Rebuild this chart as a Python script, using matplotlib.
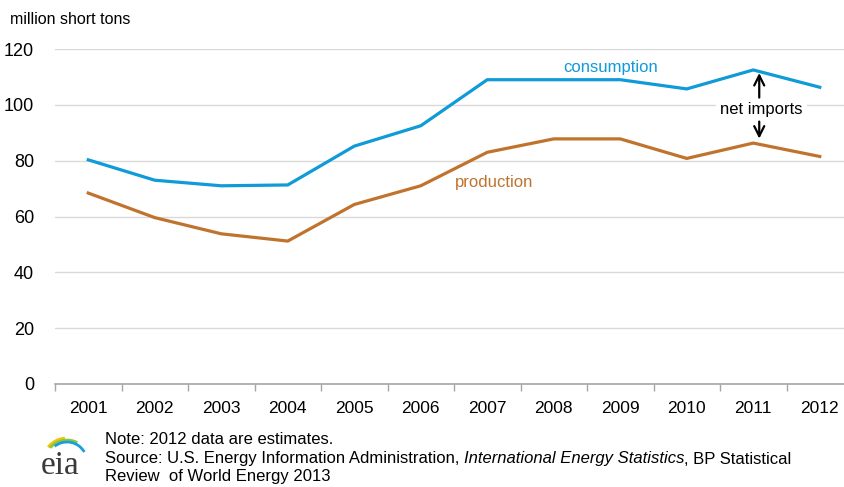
import numpy as np
import matplotlib
matplotlib.use("Agg")
import matplotlib.pyplot as plt
from matplotlib.patches import Arc

plt.rcParams['font.family'] = ['Liberation Sans', 'DejaVu Sans']

years = ['2001', '2002', '2003', '2004', '2005', '2006',
         '2007', '2008', '2009', '2010', '2011', '2012']
consumption = [80.3, 73.0, 71.0, 71.3, 85.2, 92.5, 109.0, 109.0, 109.0, 105.7, 112.5, 106.3]
production = [68.4, 59.6, 53.8, 51.2, 64.3, 71.0, 83.0, 87.8, 87.8, 80.8, 86.3, 81.5]

blue = '#0f9ad8'
brown = '#c0732d'
grid = '#d9d9d9'

fig = plt.figure(figsize=(8.44, 4.87), dpi=100)
# the original chart runs a little past the right edge of the image
ax = fig.add_axes([55/844, 103/487, 798/844, 335/487])

x = np.arange(len(years))
ax.plot(x, consumption, color=blue, lw=2.3, solid_joinstyle='miter')
ax.plot(x, production, color=brown, lw=2.3, solid_joinstyle='miter')

ax.set_xlim(-0.5, len(years) - 0.5)
ax.set_ylim(0, 120)
ax.set_yticks(range(0, 121, 20))
ax.yaxis.grid(True, color=grid, lw=1)
ax.set_axisbelow(True)
ax.set_xticks(x)
ax.set_xticklabels(years)
ax.set_xticks(np.arange(-0.5, len(years)), minor=True)
ax.tick_params(axis='x', which='major', length=0, pad=12, labelsize=12.5, colors='#000000')
ax.tick_params(axis='x', which='minor', length=5, color='#a6a6a6', width=1)
ax.tick_params(axis='y', length=0, pad=15, labelsize=13)
for s in ['top', 'right', 'left']:
    ax.spines[s].set_visible(False)
ax.spines['bottom'].set_color('#a6a6a6')
ax.spines['bottom'].set_linewidth(1.2)

fig.text(10/844, 1 - 20/487, 'million short tons', fontsize=11.5, va='center')

ax.text(7.86, 113.3, 'consumption', color=blue, fontsize=12, ha='center', va='center')
ax.text(6.1, 72.0, 'production', color=brown, fontsize=12, ha='center', va='center')

ax.text(10.12, 98.2, 'net imports', fontsize=12, ha='center', va='center',
        bbox=dict(facecolor='white', edgecolor='none', pad=3), zorder=5)
arrow = dict(arrowstyle='->', color='black', lw=1.6, mutation_scale=18,
             shrinkA=0, shrinkB=0)
ax.annotate('', xy=(10.09, 111.4), xytext=(10.09, 102.6), arrowprops=arrow, zorder=6)
ax.annotate('', xy=(10.09, 87.9), xytext=(10.09, 94.0), arrowprops=arrow, zorder=6)

# footer
fs = 12
fig.text(105/844, 1 - 440/487, 'Note: 2012 data are estimates.', fontsize=fs, va='center')
t1 = fig.text(105/844, 1 - 459/487, 'Source: U.S. Energy Information Administration, ', fontsize=fs, va='center')
fig.canvas.draw()
r = fig.canvas.get_renderer()
x1 = t1.get_window_extent(r).x1 / fig.bbox.width
t2 = fig.text(x1, 1 - 459/487, 'International Energy Statistics', fontsize=fs, va='center', style='italic')
x2 = t2.get_window_extent(r).x1 / fig.bbox.width
fig.text(x2, 1 - 459/487, ', BP Statistical', fontsize=fs, va='center')
fig.text(105/844, 1 - 477/487, 'Review  of World Energy 2013', fontsize=fs, va='center')

# eia logo (pixel-space axes over the bottom-left corner)
fig.text(41/844, 1 - 466/487, 'eia', fontsize=24, family='Liberation Serif', color='#3a3a3a', va='center')
lax = fig.add_axes([0, 0, 100/844, 60/487])
lax.set_xlim(0, 100)
lax.set_ylim(0, 60)
lax.axis('off')
for rad, a1, a2, c in [(24, 95, 142, '#f2c500'), (22, 62, 140, '#8dc63f'), (20, 30, 128, '#1a9fd9')]:
    lax.add_patch(Arc((67, 25), 2 * rad, 2 * rad, theta1=a1, theta2=a2, color=c, lw=2.0))

fig.savefig('out.png', dpi=100)
